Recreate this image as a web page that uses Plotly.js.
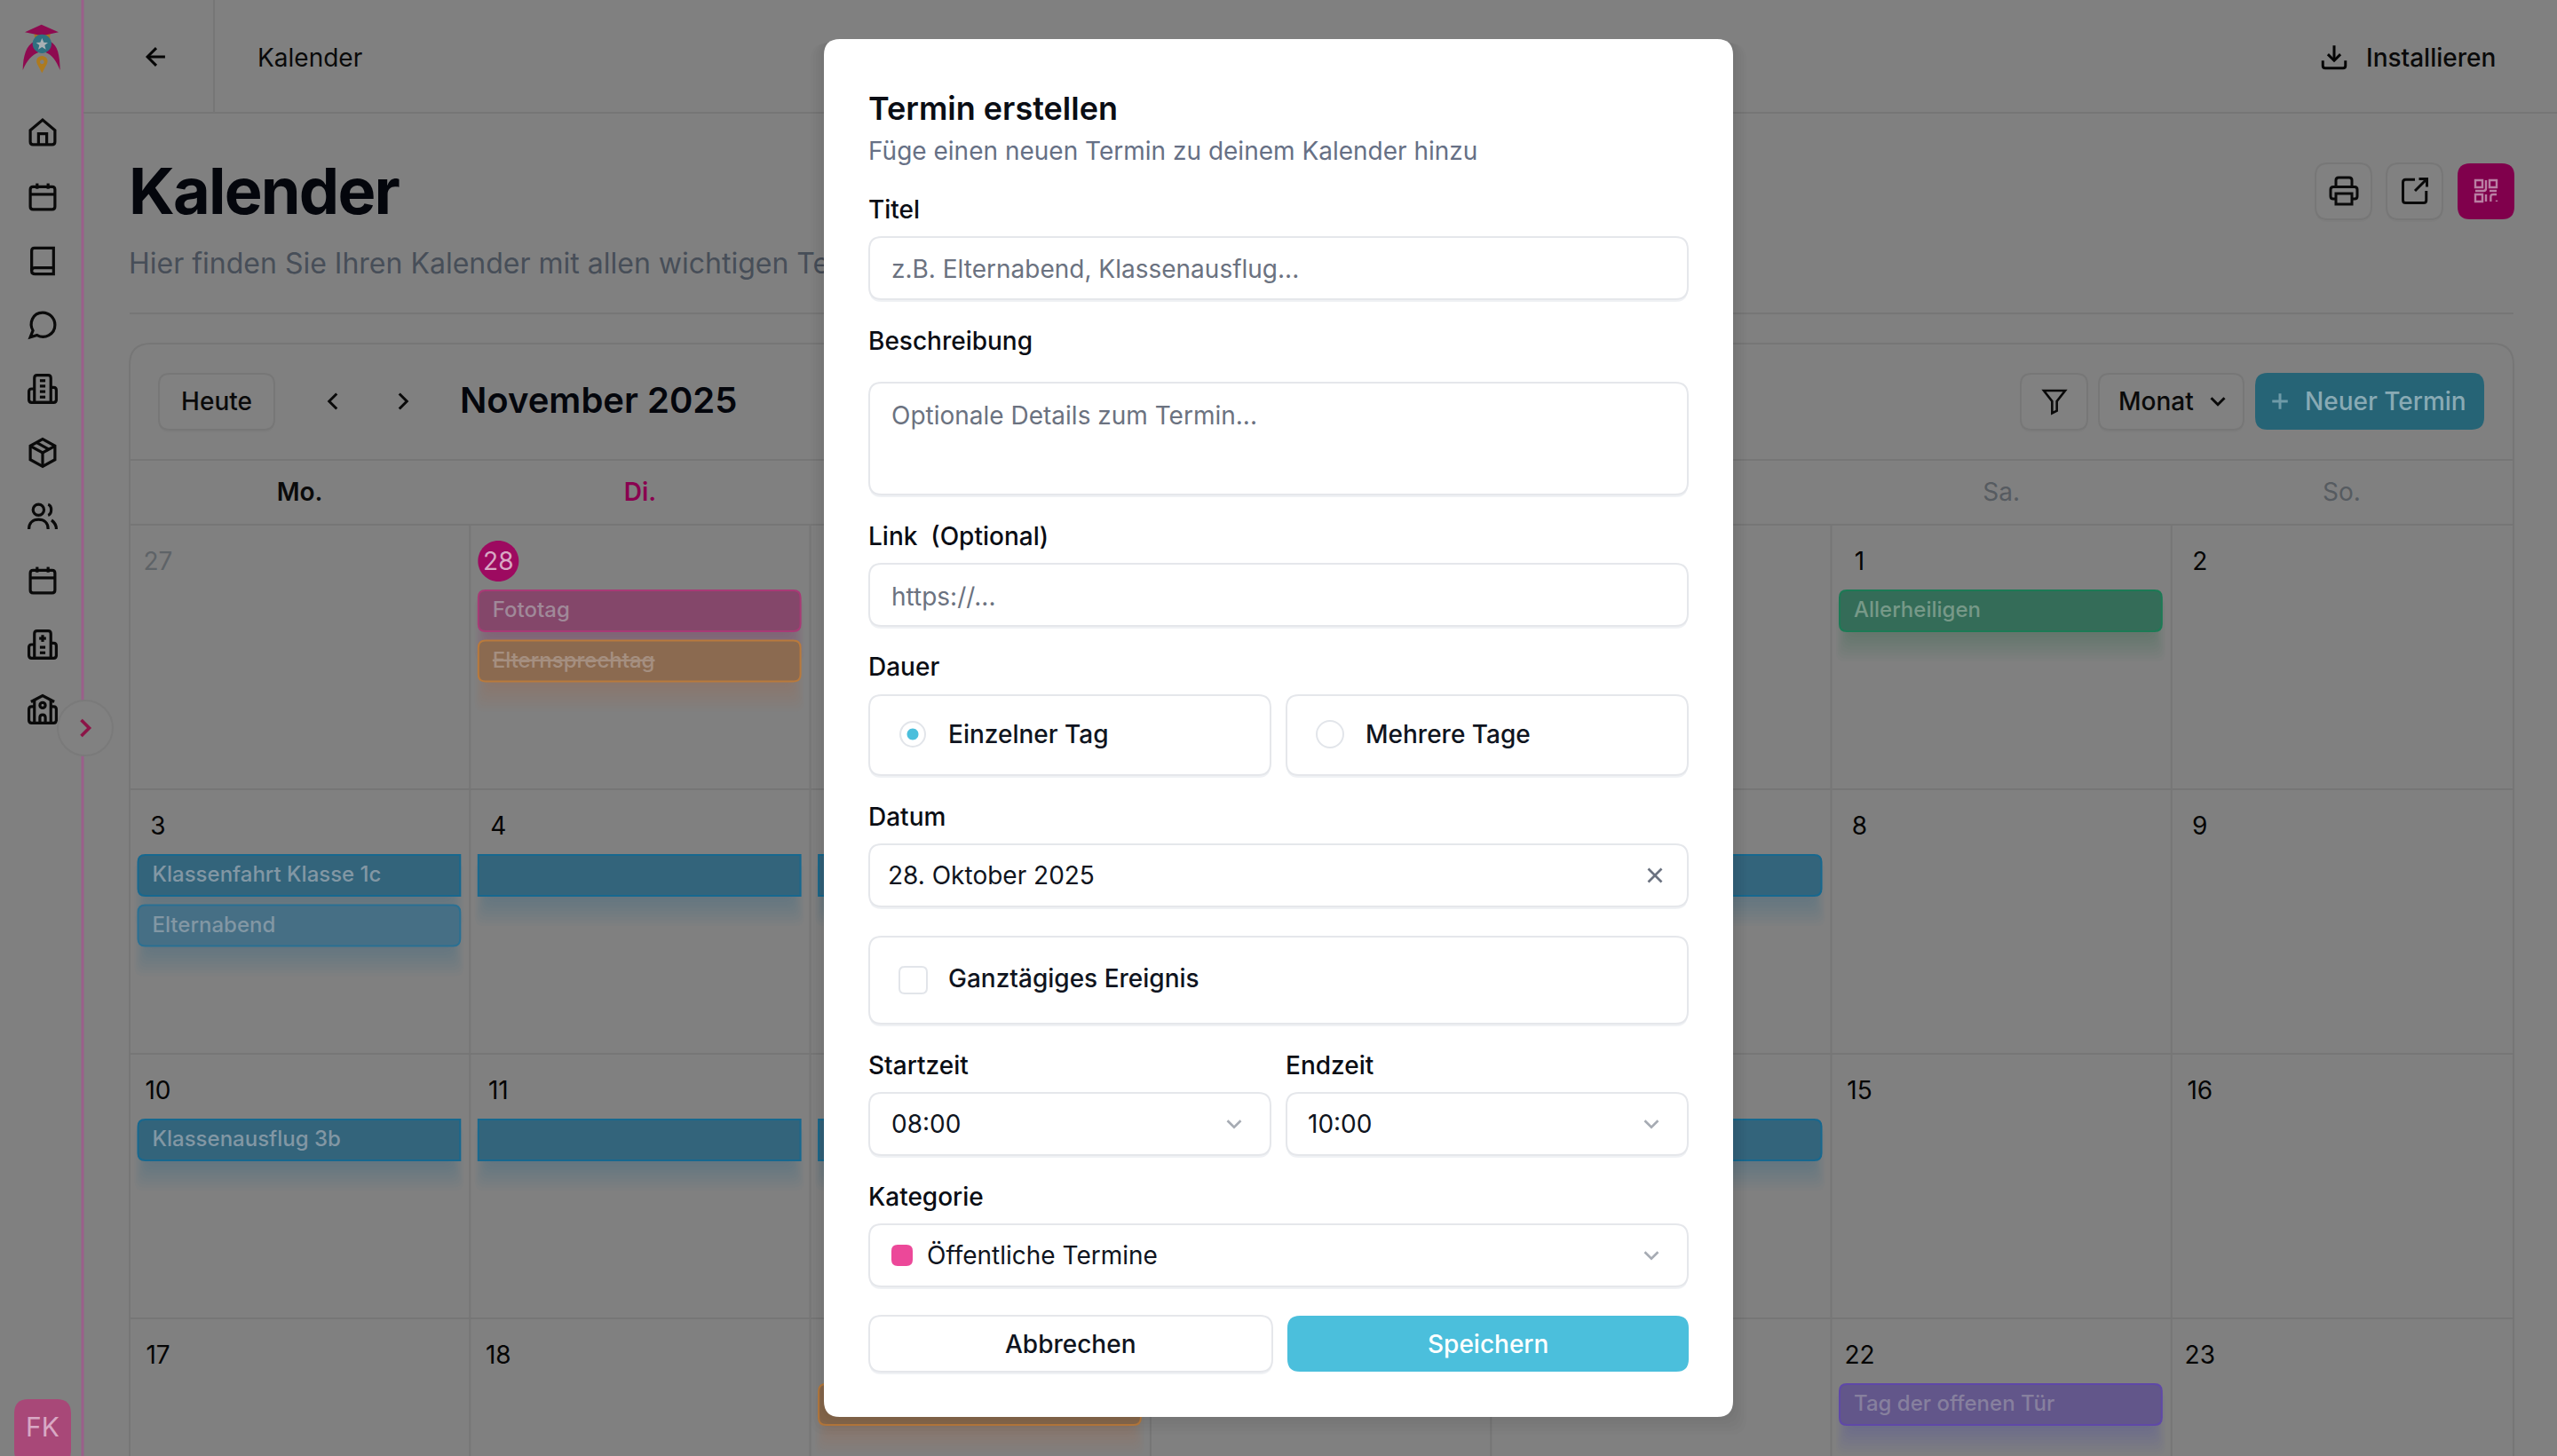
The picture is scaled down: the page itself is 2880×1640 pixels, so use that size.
<!DOCTYPE html>
<html><head><meta charset="utf-8">
<script src="https://cdn.plot.ly/plotly-3.0.1.min.js"></script>
<style>html,body{margin:0;padding:0;background:#808080;overflow:hidden}#p{width:2880px;height:1640px}</style>
</head><body><div id="p"></div>
<script>
// ---------- content ----------
const weekdays=['Mo.','Di.',null,null,null,'Sa.','So.'];
const weeks=[[27,28,null,null,null,1,2],[3,4,null,null,null,8,9],[10,11,null,null,null,15,16],[17,18,null,null,null,22,23]];
const eventTitles=['Fototag','Elternsprechtag','Allerheiligen','Klassenfahrt Klasse 1c','Elternabend','Klassenausflug 3b','','Tag der offenen Tür'];
const eventWeek=[0,0,0,1,1,2,3,3];
const eventStartDay=[1,1,5,0,0,0,2,5];
const eventEndDay=[1,1,5,4,0,4,2,5];
const eventSlot=[0,1,0,0,1,0,0,0];
const eventKind=['pink','orange','green','blue','sky','blue','orange','purple'];
const sideIcons=['home','calendar','book','chat','building','box','users','calendar','hospital','school'];
const monthTitle='November 2025';
const pageTitle='Kalender';
const pageSubtitle='Hier finden Sie Ihren Kalender mit allen wichtigen Te';
const modalTitle='Termin erstellen';
const modalSubtitle='Füge einen neuen Termin zu deinem Kalender hinzu';
const fieldLabels=['Titel','Beschreibung','Link\u00a0 (Optional)','Dauer','Datum','Startzeit','Endzeit','Kategorie'];
const placeholders=['z.B. Elternabend, Klassenausflug...','Optionale Details zum Termin...','https://...'];
const durationOptions=['Einzelner Tag','Mehrere Tage'];
const dateValue='28. Oktober 2025';
const allDayLabel='Ganztägiges Ereignis';
const startTime='08:00', endTime='10:00', categoryValue='Öffentliche Termine';
const cancelLabel='Abbrechen', saveLabel='Speichern';

// ---------- style + geometry ----------
const FONT='Inter, "Noto Sans", sans-serif';
const BG='#808080', LINE='#767676';
const KIND={
 pink:{fill:'#84476a',line:'#a83a76',text:'#a08999',shadow:'160,50,110'},
 orange:{fill:'#8b6a50',line:'#b97a3c',text:'#a58f80',shadow:'190,120,60'},
 green:{fill:'#346c58',line:'#1c7a55',text:'#779988',shadow:'20,120,80'},
 blue:{fill:'#33647b',line:'#17688f',text:'#8297a4',shadow:'20,105,150'},
 sky:{fill:'#466f85',line:'#2a7093',text:'#8297a4',shadow:'20,105,150'},
 purple:{fill:'#62568a',line:'#5f48a8',text:'#87809e',shadow:'90,70,170'}
};
const COL0=146,COLW=383.3,ROW0=591,ROWH=298;
const shapes=[],annotations=[],traces=[];

function rr(x0,y0,x1,y1,r){
  const [a,b,c,d]=Array.isArray(r)?r:[r,r,r,r];
  return `M${x0+a} ${y0}L${x1-b} ${y0}Q${x1} ${y0} ${x1} ${y0+b}L${x1} ${y1-c}Q${x1} ${y1} ${x1-c} ${y1}L${x0+d} ${y1}Q${x0} ${y1} ${x0} ${y1-d}L${x0} ${y0+a}Q${x0} ${y0} ${x0+a} ${y0}Z`;
}
function P(path,fill,line,w,layer){
  shapes.push({type:'path',xref:'x',yref:'y',path,fillcolor:fill||'rgba(0,0,0,0)',line:{color:line||'rgba(0,0,0,0)',width:line?(w||2):0},layer:layer||'below'});
}
function circlePath(cx,cy,r){const k=r*0.5523;
  return `M${cx+r} ${cy}C${cx+r} ${cy+k} ${cx+k} ${cy+r} ${cx} ${cy+r}C${cx-k} ${cy+r} ${cx-r} ${cy+k} ${cx-r} ${cy}C${cx-r} ${cy-k} ${cx-k} ${cy-r} ${cx} ${cy-r}C${cx+k} ${cy-r} ${cx+r} ${cy-k} ${cx+r} ${cy}Z`;}
function bgText(x,y,text,size,color,weight,anchor,style){
  const a=anchor||'l';
  const pos={l:'middle right',c:'middle center',r:'middle left'}[a];
  traces.push({type:'scatter',mode:'text',x:[a==='l'?x-1:x],y:[y+3.5],text:[String(text)],textposition:pos,cliponaxis:false,hoverinfo:'skip',showlegend:false,
    textfont:Object.assign({family:FONT,size,color,weight:weight||400},style||{})});
}
function A(x,y,text,size,color,weight,anchor){
  annotations.push({xref:'x',yref:'y',x,y,text:String(text),showarrow:false,borderpad:0,borderwidth:0,
    xanchor:{l:'left',c:'center',r:'right'}[anchor||'l'],yanchor:'middle',font:{family:FONT,size,color,weight:weight||400}});
}
const ICONS={
 home:['M3 10.5L12 3L21 10.5L21 19Q21 21 19 21L5 21Q3 21 3 19Z','M9 21L9 13L15 13L15 21'],
 calendar:['M5 4.5L19 4.5Q21 4.5 21 6.5L21 19Q21 21 19 21L5 21Q3 21 3 19L3 6.5Q3 4.5 5 4.5Z','M3 10L21 10','M8 2L8 6','M16 2L16 6'],
 book:['M4 19.5L4 4.5Q4 2.5 6 2.5L20 2.5L20 21.5L6.5 21.5Q4 21.5 4 19.5Z','M4 19Q4 17 6.5 17L20 17'],
 chat:['M3 21L4.9 16.1C2 11 4.5 3 12 3C17 3 21 7 21 12C21 19 13.5 22.5 8 19.5Z'],
 building:['M6 22L6 4Q6 2 8 2L16 2Q18 2 18 4L18 22Z','M6 12L4 12Q2 12 2 14L2 20Q2 22 4 22L20 22Q22 22 22 20L22 13Q22 11 20 11L18 11','M10 6L14 6','M10 10L14 10','M10 14L14 14','M10 18L14 18'],
 box:['M12 22L3 17L3 7L12 2L21 7L21 17Z','M3 7L12 12L21 7','M12 12L12 22','M7.5 4.5L16.5 9.5'],
 users:['M13 7C13 9.2 11.2 11 9 11C6.8 11 5 9.2 5 7C5 4.8 6.8 3 9 3C11.2 3 13 4.8 13 7Z','M2 21C2 16.5 5 14 9 14C13 14 16 16.5 16 21','M16 3.1C19 4 19 10 16 11','M22 21C22 18 20.5 16 18.5 14.5'],
 hospital:['M6 22L6 4Q6 2 8 2L16 2Q18 2 18 4L18 22Z','M6 12L4 12Q2 12 2 14L2 20Q2 22 4 22L20 22Q22 22 22 20L22 13Q22 11 20 11L18 11','M12 5L12 10','M9.5 7.5L14.5 7.5','M10 14L14 14','M10 18L14 18'],
 school:['M14 22L14 18Q14 16 12 16Q10 16 10 18L10 22','M18 10L20 10Q22 10 22 12L22 20Q22 22 20 22L4 22Q2 22 2 20L2 12Q2 10 4 10L6 10','M18 5L18 22','M6 5L6 22','M3.5 6.5L12 2L20.5 6.5','M14 9C14 10.1 13.1 11 12 11C10.9 11 10 10.1 10 9C10 7.9 10.9 7 12 7C13.1 7 14 7.9 14 9Z'],
 back:['M19 12L5 12','M12 5L5 12L12 19'],
 left:['M15 18L9 12L15 6'], right:['M9 18L15 12L9 6'], down:['M6 9L12 15L18 9'],
 x:['M18 6L6 18','M6 6L18 18'], plus:['M12 5L12 19','M5 12L19 12'],
 download:['M21 15L21 19Q21 21 19 21L5 21Q3 21 3 19L3 15','M7 10L12 15L17 10','M12 15L12 3'],
 printer:['M6 9L6 4Q6 2 8 2L16 2Q18 2 18 4L18 9','M6 18L4 18Q2 18 2 16L2 11Q2 9 4 9L20 9Q22 9 22 11L22 16Q22 18 20 18L18 18','M6 14L18 14L18 22L6 22Z'],
 share:['M12 3.5L5 3.5Q3 3.5 3 5.5L3 19Q3 21 5 21L18.5 21Q20.5 21 20.5 19L20.5 12','M21 3L12 12','M15 3L21 3L21 9'],
 filter:['M3 3L21 3L14 12L14 20L10 22L10 12Z'],
 qr:['M3 3L9 3L9 9L3 9Z','M15 3L21 3L21 9L15 9Z','M3 15L9 15L9 21L3 21Z','M12 3L12 10Q12 12 10 12L3 12','M21 12L15 12','M12 15L12 21','M16 21L16 17Q16 15 18 15L21 15','M21 20L21 21']
};
function ic(name,cx,cy,size,color,w,layer){
  const s=size/24;
  ICONS[name].forEach(p=>{
    const out=p.replace(/(-?[\d.]+) (-?[\d.]+)/g,(m,a,b)=>`${(cx+(+a-12)*s).toFixed(2)} ${(cy+(+b-12)*s).toFixed(2)}`);
    P(out,null,color,w,layer);
  });
}
function softBtn(x0,y0,x1,y1,r){
  P(rr(x0,y0+2,x1,y1+3,r),'#7d7d7d');
  P(rr(x0,y0,x1,y1,r),'#818181','#777777',2);
}

// ---------- app chrome behind the dialog ----------
P(`M93 0L93 1640`,null,'#9a5f8a',3);
P(`M94 127L2880 127`,null,LINE,2);
P(`M241 0L241 127`,null,LINE,2);
P(`M146 353L2831 353`,null,LINE,2);
P(rr(146,387,2831,1700,24),'#808080','#767676',2);
P(`M146 518L2831 518`,null,LINE,2);
P(`M146 591L2831 591`,null,LINE,2);
for(let i=1;i<=3;i++)P(`M146 ${ROW0+ROWH*i}L2831 ${ROW0+ROWH*i}`,null,LINE,2);
for(let c=1;c<7;c++)P(`M${COL0+COLW*c} 591L${COL0+COLW*c} 1640`,null,LINE,2);

// logo (drawn in a local 240 unit box)
function logo(path){return path.replace(/(-?[\d.]+) (-?[\d.]+)/g,(m,a,b)=>`${(10+a/3).toFixed(2)} ${(15+b/3).toFixed(2)}`);}
P(logo('M85 95C60 108 48 140 47 192C60 160 78 140 100 132Z'),'#8e0a50');
P(logo('M140 95C165 108 172 140 173 192C160 160 146 140 124 132Z'),'#8e0a50');
P(logo('M85 62L140 62L138 90L88 90Z'),'#a87420');
P(logo('M54 64L110 38L168 64L112 76Z'),'#8e0a50');
P(logo(circlePath(112,103,32)),'#2f7080');
P(logo('M112 84L118 98L132 99L121 108L125 122L112 114L99 122L103 108L92 99L106 98Z'),'#a8b0b4');
P(logo('M112 202L96 172C88 155 100 144 112 144C124 144 136 155 128 172Z'),'#ad7a1f');
P(logo(circlePath(112,164,7)),'#808080');

const sideY=[149,222,294,366,438,510,582,654,726,799];
sideIcons.forEach((n,i)=>ic(n,48,sideY[i],37,'#0a0a0a',3.2));
P(circlePath(96,820,31),'#818181','#7a7a7a',2);
ic('right',96,820,36,'#8c1547',3.6);
P(rr(16,1576,80,1650,16),'#a84878');
bgText(48,1607,'FK',30,'#d8a8c4',400,'c');

ic('back',176,64,34,'#050505',3);
bgText(291,64,pageTitle,28,'#0a0a0a',400,'l');
bgText(146,219,pageTitle,72,'#04060c',700,'l');
bgText(146,296,pageSubtitle,32,'#474e58',400,'l');

ic('download',2629,64,34,'#050505',3);
bgText(2666,64,'Installieren',28,'#0a0a0a',500,'l');
softBtn(2608,184,2671,247,14); ic('printer',2640,215,36,'#0a0a0a',3);
softBtn(2688,184,2751,247,14); ic('share',2720,215,36,'#0a0a0a',3);
P(rr(2768,184,2832,247,14),'#80004c');
ic('qr',2800,215,32,'#b97fa3',2.4);

softBtn(179,421,309,484,12);
bgText(244,451,'Heute',28,'#0a0a0a',500,'c');
ic('left',375,452,34,'#0a0a0a',3);
ic('right',454,452,34,'#0a0a0a',3);
bgText(519,451,monthTitle,40,'#04060c',600,'l');
softBtn(2276,421,2351,484,12); ic('filter',2314,452,32,'#0a0a0a',2.6);
softBtn(2364,421,2527,484,12);
bgText(2387,451,'Monat',28,'#0a0a0a',500,'l');
ic('down',2498,452,30,'#0a0a0a',3);
P(rr(2540,420,2798,484,14),'#266476');
ic('plus',2568,452,30,'#6f9ba8',3);
bgText(2597,451,'Neuer Termin',28,'#89aab4',500,'l');

// weekday header + dates
weekdays.forEach((d,c)=>{ if(d==null)return;
  const color=c===1?'#8a0050':(c>=5?'#565b60':'#0a0a0a');
  bgText(COL0+COLW*(c+.5),553,d,28,color,c>=5?400:600,'c');
});
weeks.forEach((wk,r)=>wk.forEach((v,c)=>{ if(v==null)return;
  const cx=COL0+COLW*c+32, cy=ROW0+ROWH*r+40;
  if(v===28){P(circlePath(cx,cy+1,23),'#9d0a60');bgText(cx,cy,v,28,'#d8a8c4',400,'c');}
  else bgText(cx,cy,v,28,v===27?'#5e6367':'#050505',400,'c');
}));

// events
eventTitles.forEach((t,i)=>{
  const k=KIND[eventKind[i]];
  const y0=ROW0+ROWH*eventWeek[i]+74+eventSlot[i]*56.5, y1=y0+46;
  for(let c=eventStartDay[i];c<=eventEndDay[i];c++){
    const x0=COL0+COLW*c+9.5, x1=COL0+COLW*(c+1)-11;
    const rl=c===eventStartDay[i]?8:0, rR=c===eventEndDay[i]?8:0;
    for(let s=10;s>=1;s--)P(rr(x0+12-s*1.6,y0+8,x1-12+s*1.6,y1+s*3.4,10),`rgba(${k.shadow},0.026)`);
    P(rr(x0,y0,x1,y1,[rl,rR,rR,rl]),k.fill,k.line,2);
    if(c===eventStartDay[i]&&t)bgText(x0+17,(y0+y1)/2-2.5,t,24,k.text,500,'l',t==='Elternsprechtag'?{lineposition:'through'}:{});
  }
});

// ---------- dialog ----------
for(let s=5;s>=1;s--)P(rr(928-s*3,44+s,1952+s*3,1596+s*4,18),'rgba(0,0,0,0.015)','', 0,'above');
P(rr(928,44,1952,1596,18),'#ffffff',null,0,'above');
function field(x0,y0,x1,y1,r){
  P(rr(x0,y0+2,x1,y1+3,r||14),'#eff1f4',null,0,'above');
  P(rr(x0,y0,x1,y1,r||14),'#ffffff','#e5e7eb',2,'above');
}
A(978,122,modalTitle,36,'#0a0d14',600);
A(978,170,modalSubtitle,28,'#667085',400);
const LBL='#0a0d14',PH='#6b7280',VAL='#0f1420';
const labelY=[236,384,604,751,920,1200,1200,1348];
const labelX=[978,978,978,978,978,978,1448,978];
fieldLabels.forEach((t,i)=>A(labelX[i],labelY[i],t,28,LBL,500));
field(979,267,1901,337); A(1004,303,placeholders[0],28,PH);
field(979,431,1901,557); A(1004,468,placeholders[1],28,PH);
field(979,635,1901,705); A(1004,672,placeholders[2],28,PH);
field(979,783,1431,873); field(1449,783,1901,873);
P(circlePath(1028,827,14),'#fff','#e2e5ea',2,'above');
P(circlePath(1028,827,6.5),'#4bbfdc',null,0,'above');
A(1068,827,durationOptions[0],28,VAL,500);
P(circlePath(1498,827,15),'#fff','#e2e5ea',2,'above');
A(1538,827,durationOptions[1],28,VAL,500);
field(979,951,1901,1021); A(1000,986,dateValue,28,VAL);
ic('x',1864,986,30,'#6b7280',2.6,'above');
field(979,1055,1901,1153);
P(rr(1013,1089,1044,1119,6),'#fff','#e2e5ea',2,'above');
A(1068,1102,allDayLabel,28,VAL,500);
field(979,1231,1431,1301); A(1004,1266,startTime,28,VAL);
ic('down',1390,1266,30,'#a6abb3',2.6,'above');
field(1449,1231,1901,1301); A(1473,1266,endTime,28,VAL);
ic('down',1860,1266,30,'#a6abb3',2.6,'above');
field(979,1379,1901,1449);
P(rr(1004,1402,1028,1426,7),'#ec4899',null,0,'above');
A(1044,1414,categoryValue,28,VAL);
ic('down',1860,1414,30,'#a6abb3',2.6,'above');
field(979,1482,1433,1545);
A(1206,1514,cancelLabel,28,VAL,500,'c');
P(rr(1450,1482,1902,1545,14),'#4bbfdc',null,0,'above');
A(1676,1514,saveLabel,28,'#ffffff',500,'c');

Plotly.newPlot('p',traces,{
  width:2880,height:1640,autosize:false,margin:{l:0,r:0,t:0,b:0,pad:0},
  paper_bgcolor:BG,plot_bgcolor:BG,showlegend:false,
  xaxis:{range:[0,2880],visible:false,fixedrange:true},
  yaxis:{range:[1640,0],visible:false,fixedrange:true},
  shapes,annotations
},{displayModeBar:false,staticPlot:true}).then(()=>{
  document.querySelectorAll('.textpoint text').forEach(t=>{
    if(parseFloat(t.style.fontSize)>=60) t.style.letterSpacing='-1.8px';
  });
});
</script></body></html>
